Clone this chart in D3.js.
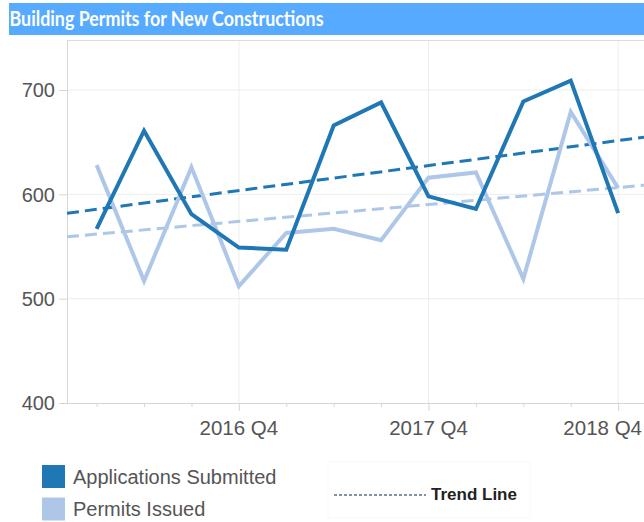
<!DOCTYPE html>
<html>
<head>
<meta charset="utf-8">
<script src="https://cdn.jsdelivr.net/npm/d3@7"></script>
<style>
  body { margin: 0; background: #fff; }
  svg { display: block; }
</style>
</head>
<body>
<script>
const quarters = ['2016 Q1', '2016 Q2', '2016 Q3', '2016 Q4',
  '2017 Q1', '2017 Q2', '2017 Q3', '2017 Q4',
  '2018 Q1', '2018 Q2', '2018 Q3', '2018 Q4'];
const applications = [567, 661, 581, 549, 547, 666, 688, 598, 586, 689, 709, 582];
const permits = [628, 517, 626, 512, 563, 567, 556, 616, 621, 519, 679, 606];
const yTicks = [400, 500, 600, 700];
const seriesNames = ['Applications Submitted', 'Permits Issued'];
const seriesColors = ['#1f77b4', '#aec7e8'];

const width = 644, height = 522;
const plotLeft = 67, plotTop = 40, plotBottom = 403;

const svg = d3.select('body').append('svg')
  .attr('width', width)
  .attr('height', height);

// title bar
svg.append('rect')
  .attr('x', 9).attr('y', 3)
  .attr('width', width - 9).attr('height', 32)
  .attr('fill', '#56aaff');
svg.append('text')
  .attr('x', 9.5).attr('y', 25.5)
  .attr('textLength', 314)
  .attr('lengthAdjust', 'spacingAndGlyphs')
  .style('font-family', 'Lato, "Open Sans", sans-serif')
  .style('font-weight', 'bold')
  .style('font-size', '20px')
  .style('fill', '#fff')
  .text('Building Permits for New Constructions');

const x = d3.scaleLinear().domain([-0.625, 11.545]).range([plotLeft, width]);
const y = d3.scaleLinear().domain([400, 700]).range([plotBottom, 90]);

const g = svg.append('g');

// grid
g.selectAll('.hgrid').data(yTicks.filter(v => v > 400)).enter().append('line')
  .attr('x1', plotLeft).attr('x2', width)
  .attr('y1', d => y(d)).attr('y2', d => y(d))
  .attr('stroke', '#ececec').attr('stroke-width', 1);
const q4 = quarters.map((q, i) => i).filter(i => quarters[i].endsWith('Q4'));
g.selectAll('.vgrid').data(q4).enter().append('line')
  .attr('x1', d => x(d)).attr('x2', d => x(d))
  .attr('y1', plotTop).attr('y2', plotBottom)
  .attr('stroke', '#ececec').attr('stroke-width', 1);

// frame
g.append('line').attr('x1', plotLeft).attr('x2', width).attr('y1', plotTop + 0.5).attr('y2', plotTop + 0.5)
  .attr('stroke', '#dcdcdc');
g.append('line').attr('x1', plotLeft + 0.5).attr('x2', plotLeft + 0.5).attr('y1', plotTop).attr('y2', plotBottom)
  .attr('stroke', '#d6d6d6');
g.append('line').attr('x1', 60).attr('x2', width).attr('y1', plotBottom + 0.5).attr('y2', plotBottom + 0.5)
  .attr('stroke', '#d6d6d6');

// y ticks
g.selectAll('.ytick').data(yTicks).enter().append('line')
  .attr('x1', 59).attr('x2', plotLeft)
  .attr('y1', d => y(d) + 0.5).attr('y2', d => y(d) + 0.5)
  .attr('stroke', '#d6d6d6');
g.selectAll('.ylab').data(yTicks).enter().append('text')
  .attr('x', 55).attr('y', d => y(d))
  .attr('dy', '0.36em')
  .attr('text-anchor', 'end')
  .style('font-family', '"Liberation Sans", Arial, sans-serif')
  .style('font-size', '20px')
  .style('fill', '#555')
  .text(d => d);

// x ticks
g.selectAll('.xtick').data(quarters).enter().append('line')
  .attr('x1', (d, i) => x(i) + 0.5).attr('x2', (d, i) => x(i) + 0.5)
  .attr('y1', plotBottom)
  .attr('y2', d => plotBottom + (d.endsWith('Q4') ? 8 : 4))
  .attr('stroke', '#d6d6d6');
g.selectAll('.xlab').data(q4).enter().append('text')
  .attr('x', d => x(d)).attr('y', 435)
  .attr('text-anchor', 'middle')
  .style('font-family', '"Liberation Sans", Arial, sans-serif')
  .style('font-size', '20.5px')
  .style('fill', '#555')
  .text(d => quarters[d])
  .each(function () {
    // keep the last label inside the chart, as the original does
    const bb = this.getBBox();
    if (bb.x + bb.width > width - 2) {
      d3.select(this).attr('text-anchor', 'end').attr('x', width - 2);
    }
  });

// trend lines (least squares over the quarter index)
function trend(vals) {
  const mx = d3.mean(vals, (v, i) => i), my = d3.mean(vals);
  let sxy = 0, sxx = 0;
  vals.forEach((v, i) => { sxy += (i - mx) * (v - my); sxx += (i - mx) * (i - mx); });
  const b = sxy / sxx;
  return i => my + b * (i - mx);
}
svg.append('clipPath').attr('id', 'plotclip')
  .append('rect').attr('x', plotLeft).attr('y', plotTop)
  .attr('width', width - plotLeft).attr('height', plotBottom - plotTop);

const plot = g.append('g').attr('clip-path', 'url(#plotclip)');
const [d0, d1] = x.domain();
[permits, applications].forEach((vals, k) => {
  const f = trend(vals);
  plot.append('line')
    .attr('x1', x(d0)).attr('y1', y(f(d0)))
    .attr('x2', x(d1)).attr('y2', y(f(d1)))
    .attr('stroke', k === 0 ? seriesColors[1] : seriesColors[0])
    .attr('stroke-width', 3)
    .attr('stroke-dasharray', '12,6');
});

const line = d3.line().x((d, i) => x(i)).y(d => y(d));
[permits, applications].forEach((vals, k) => {
  plot.append('path')
    .attr('d', line(vals))
    .attr('fill', 'none')
    .attr('stroke', k === 0 ? seriesColors[1] : seriesColors[0])
    .attr('stroke-width', 4)
    .attr('stroke-linejoin', 'miter');
});

// legend
const legend = svg.append('g');
seriesNames.forEach((name, i) => {
  const ly = 465 + i * 32.5;
  legend.append('rect')
    .attr('x', 42).attr('y', ly)
    .attr('width', 23).attr('height', 23)
    .attr('fill', seriesColors[i]);
  legend.append('text')
    .attr('x', 73).attr('y', ly + 11.5)
    .attr('dy', '0.36em')
    .style('font-family', '"Liberation Sans", Arial, sans-serif')
    .style('font-size', '20px')
    .style('fill', '#555')
    .text(name);
});

const tl = svg.append('g');
tl.append('rect')
  .attr('x', 328).attr('y', 462).attr('width', 202).attr('height', 56)
  .attr('fill', '#fff').attr('stroke', '#fafafa');
tl.append('line')
  .attr('x1', 334).attr('x2', 426).attr('y1', 495).attr('y2', 495)
  .attr('stroke', '#5b6e8c').attr('stroke-width', 1.5)
  .attr('stroke-dasharray', '3,2');
tl.append('text')
  .attr('x', 431).attr('y', 494)
  .attr('dy', '0.36em')
  .style('font-family', '"Liberation Sans", Arial, sans-serif')
  .style('font-weight', 'bold')
  .style('font-size', '17px')
  .style('fill', '#222')
  .text('Trend Line');
</script>
</body>
</html>
